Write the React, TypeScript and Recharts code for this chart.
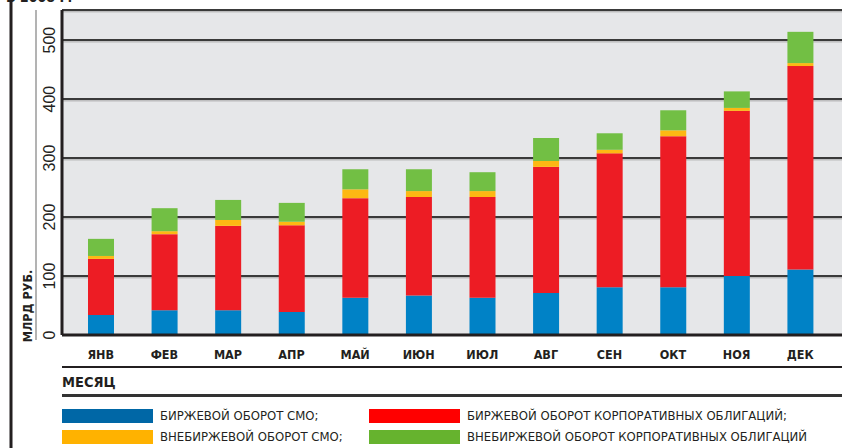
import React from 'react';
import { BarChart, Bar, XAxis, YAxis, CartesianGrid, Legend } from 'recharts';

const months = ['ЯНВ', 'ФЕВ', 'МАР', 'АПР', 'МАЙ', 'ИЮН', 'ИЮЛ', 'АВГ', 'СЕН', 'ОКТ', 'НОЯ', 'ДЕК'];
const exchangeSmo = [34, 42, 42, 39, 63, 67, 63, 71, 81, 81, 100, 111];
const exchangeCorp = [95, 129, 143, 147, 169, 167, 171, 214, 227, 256, 280, 345];
const otcSmo = [5, 5, 10, 6, 15, 10, 10, 10, 6, 10, 5, 5];
const otcCorp = [29, 39, 34, 32, 34, 37, 32, 39, 28, 34, 28, 53];
const yTicks = [0, 100, 200, 300, 400, 500];

const data = months.map((m, i) => ({
  month: m,
  exSmo: exchangeSmo[i],
  exCorp: exchangeCorp[i],
  otcSmo: otcSmo[i],
  otcCorp: otcCorp[i],
}));

const NARROW = "'Liberation Sans Narrow', 'DejaVu Sans Condensed', 'Noto Sans', sans-serif";
const INK = '#231f20';

const legendColors: Record<string, string> = {
  exSmo: '#0067a6',
  exCorp: '#ff0000',
  otcSmo: '#ffb200',
  otcCorp: '#66b32e',
};

// legend slot per series: [left, top] inside the legend block
const legendSlots: Record<string, [number, number]> = {
  exSmo: [62, 46],
  exCorp: [369, 46],
  otcSmo: [62, 67],
  otcCorp: [369, 67],
};

const GridLine = (props: any) => {
  const { x1, x2, y1 } = props;
  if (y1 > 330) return <g />;
  return (
    <g>
      <line x1={x1} x2={x2} y1={y1} y2={y1} stroke="#3a3a3a" strokeWidth={2} />
      <line x1={x1} x2={x2} y1={y1 + 1.8} y2={y1 + 1.8} stroke="#a8a8a8" strokeWidth={1} />
    </g>
  );
};

const XTick = (props: any) => {
  const { x, y, payload } = props;
  return (
    <text x={x} y={y + 22} textAnchor="middle" fontFamily={NARROW} fontWeight="bold"
      fontSize={12.5} fill={INK}>
      {payload.value}
    </text>
  );
};

const YTick = (props: any) => {
  const { y, payload } = props;
  return (
    <text x={55} y={y} textAnchor="middle" transform={`rotate(-90 55 ${y})`}
      fontFamily="'Liberation Sans', Arial, sans-serif" fontSize={16} fill={INK}>
      {payload.value}
    </text>
  );
};

const LegendBlock = (props: any) => {
  const { payload } = props;
  return (
    <div style={{ position: 'relative', width: 842, height: 86, fontFamily: NARROW, color: INK }}>
      <div style={{ position: 'absolute', left: 62, right: 0, top: 4, height: 1.5, background: INK }} />
      <div style={{ position: 'absolute', left: 62, top: 12, fontWeight: 'bold', fontSize: 14.5 }}>МЕСЯЦ</div>
      <div style={{ position: 'absolute', left: 62, right: 0, top: 32, height: 3, background: '#333' }} />
      {(payload || []).map((p: any) => {
        const [left, top] = legendSlots[p.dataKey] || [62, 46];
        return (
          <div key={p.dataKey} style={{ position: 'absolute', left, top, display: 'flex', alignItems: 'center' }}>
            <div style={{ width: 91, height: 14, background: legendColors[p.dataKey] }} />
            <span style={{ marginLeft: 7, fontSize: 13, letterSpacing: 0, whiteSpace: 'nowrap' }}>{p.value}</span>
          </div>
        );
      })}
    </div>
  );
};

export default function App() {
  return (
    <div style={{ position: 'absolute', left: 0, top: 0, width: 842, height: 448, background: '#fff', overflow: 'hidden' }}>
      <BarChart width={842} height={448} data={data} margin={{ top: 10, right: 0, left: 0, bottom: 0 }}>
        <CartesianGrid vertical={false} fill="#e6e7e9" horizontal={GridLine} />
        <XAxis dataKey="month" height={27} tickLine={false} tickSize={0} tick={XTick}
          axisLine={{ stroke: INK, strokeWidth: 3 }} padding={{ left: 7, right: 10 }} interval={0} />
        <YAxis width={62} domain={[0, 551]} ticks={yTicks} tickLine={false} tickSize={0} tick={YTick}
          axisLine={{ stroke: INK, strokeWidth: 3 }} allowDataOverflow />
        <Legend verticalAlign="bottom" align="left" content={LegendBlock} />
        <Bar dataKey="exSmo" name="БИРЖЕВОЙ ОБОРОТ СМО;" stackId="a" fill="#0082c6" barSize={26} isAnimationActive={false} />
        <Bar dataKey="exCorp" name="БИРЖЕВОЙ ОБОРОТ КОРПОРАТИВНЫХ ОБЛИГАЦИЙ;" stackId="a" fill="#ed1c24" barSize={26} isAnimationActive={false} />
        <Bar dataKey="otcSmo" name="ВНЕБИРЖЕВОЙ ОБОРОТ СМО;" stackId="a" fill="#fdb813" barSize={26} isAnimationActive={false} />
        <Bar dataKey="otcCorp" name="ВНЕБИРЖЕВОЙ ОБОРОТ КОРПОРАТИВНЫХ ОБЛИГАЦИЙ" stackId="a" fill="#72bf44" barSize={26} isAnimationActive={false} />
      </BarChart>
      <svg width={842} height={448} style={{ position: 'absolute', left: 0, top: 0, pointerEvents: 'none' }}>
        <line x1={11} x2={11} y1={0} y2={448} stroke={INK} strokeWidth={3} />
        <line x1={36} x2={36} y1={10} y2={340} stroke="#9a9a9a" strokeWidth={1.5} />
        <text x={32} y={306} textAnchor="middle" transform="rotate(-90 32 306)" fontFamily={NARROW}
          fontWeight="bold" fontSize={12.5} fill={INK}>МЛРД РУБ.</text>
        <text x={6} y={2} fontFamily={NARROW} fontWeight="bold" fontSize={14} fill={INK}>В 2008 Г.</text>
      </svg>
    </div>
  );
}
